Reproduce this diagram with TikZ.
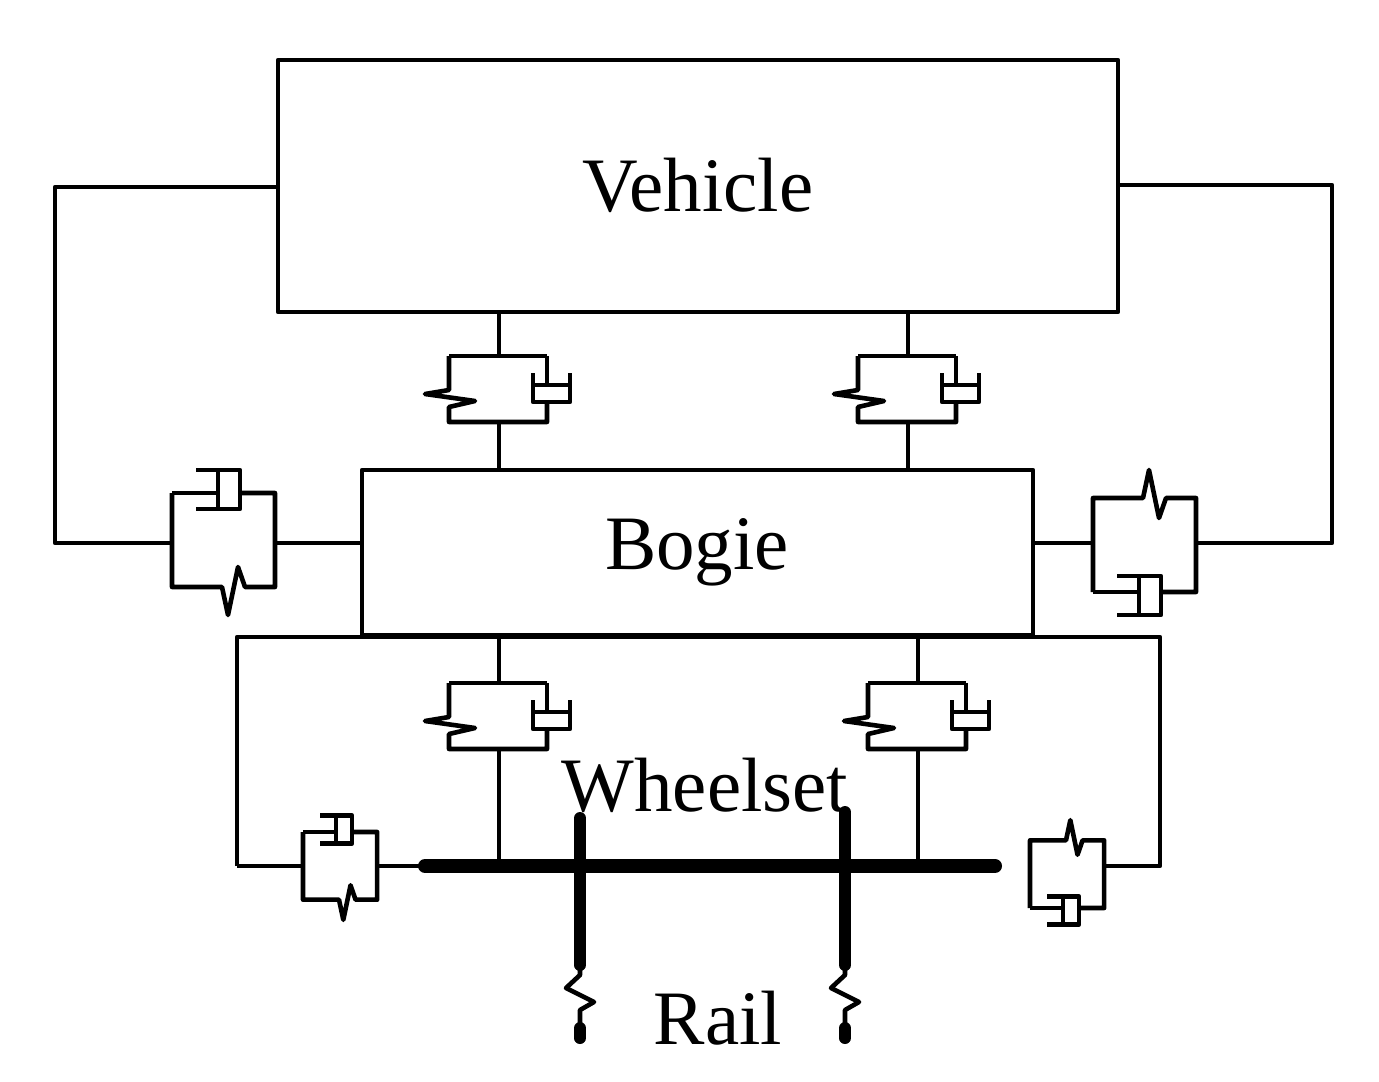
\documentclass[tikz,border=0pt]{standalone}
\usepackage{fontspec}
\setmainfont{Liberation Serif}
\begin{document}
\begin{tikzpicture}[x=0.5pt,y=-0.5pt,line width=2.3pt,line join=round,
  lbl/.style={font=\fontsize{38.5}{42}\selectfont,inner sep=0pt},
  vunit/.pic={
    \draw (0,0)--(98,0);
    \draw (0,0)--(0,34)--(-24,38)--(26,45)--(0,51)--(0,66)--(98,66)--(98,46);
    \draw (84,17)--(84,46)--(121,46)--(121,17);
    \draw (98,0)--(98,29);
    \draw (84,29)--(121,29);
  },
  hunit/.pic={
    \draw (0,0)--(46,0);
    \draw (46,-23)--(46,16);
    \draw (24,-23)--(68,-23)--(68,16)--(24,16);
    \draw (68,0)--(103,0)--(103,94)--(73,94)--(66,74)--(56,122)--(50,94)--(0,94)--(0,0);
  }]
\useasboundingbox (0,0) rectangle (1379,1081);
% boxes
\node[draw,minimum width=420pt,minimum height=126pt,inner sep=0pt] (veh) at (698,186) {};
\node[lbl] (vt) at (698,185) {Vehicle};
\node[draw,minimum width=335.5pt,minimum height=82.5pt,inner sep=0pt] (bog) at (697.5,552.5) {};
\node[lbl] (bt) at (697,552) {Bogie};
\node[lbl] (wt) at (705,785) {Wheelset};
\node[lbl] (rt) at (718,1018) {Rail};
% vehicle-bogie links
\draw (499,312)--(499,356) (499,422)--(499,470);
\pic at (449,356) {vunit};
\draw (908,312)--(908,356) (908,422)--(908,470);
\pic at (858,356) {vunit};
% lateral links
\draw (278,187)--(55,187)--(55,543)--(172,543);
\draw (275,543)--(362,543);
\pic at (172,493) {hunit};
\draw (1118,185)--(1332,185)--(1332,543)--(1196,543);
\draw (1033,543)--(1093,543);
\pic[yscale=-1] at (1093,592) {hunit};
% wheelset frame
\draw (237,866)--(237,637)--(1160,637)--(1160,866)--(1104,866);
\draw (237,866)--(303,866);
\draw (377,866)--(425,866);
\draw (499,637)--(499,683) (499,749)--(499,866);
\pic at (449,683) {vunit};
\draw (918,637)--(918,683) (918,749)--(918,866);
\pic at (868,683) {vunit};
\pic[scale=0.72] at (303,832) {hunit};
\pic[yscale=-0.72,xscale=0.72] at (1030,908) {hunit};
% axle & wheels
\draw[line width=7pt,line cap=round] (425,866)--(995,866);
\foreach \x/\t in {580/818,845/812}{
  \draw[line width=6pt,line cap=round] (\x,\t)--(\x,965);
  \draw (\x,965)--(\x,975)--(\x-14,988)--(\x+14,1002)--(\x,1010)--(\x,1025);
  \draw[line width=6pt,line cap=round] (\x,1028)--(\x,1038);
}
\end{tikzpicture}
\end{document}
